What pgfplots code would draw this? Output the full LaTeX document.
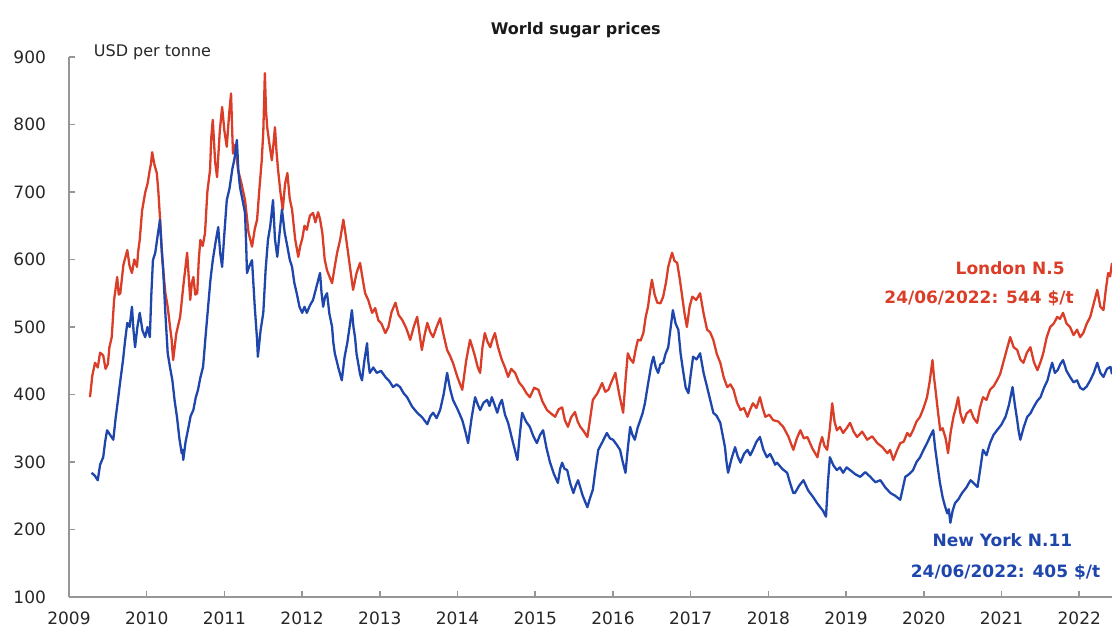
\documentclass[border=0pt]{standalone}
\usepackage{fontspec}
\setmainfont{DejaVu Sans}
\usepackage{pgfplots}
\pgfplotsset{compat=1.18}
\definecolor{ldn}{RGB}{218,62,40}
\definecolor{nyc}{RGB}{30,70,172}
\definecolor{axgray}{RGB}{150,150,150}
\begin{document}
\begin{tikzpicture}
\useasboundingbox (0,0) rectangle (556pt,317.5pt);
\begin{axis}[
  at={(34.5pt,19pt)}, anchor=south west,
  scale only axis, width=521.5pt, height=270pt,
  xmin=2009, xmax=2022.42, ymin=100, ymax=900,
  axis x line=bottom, axis y line=left,
  axis line style={-, axgray, line width=1pt},
  xtick={2009,...,2022}, ytick={100,200,...,900},
  xticklabels={2009,2010,2011,2012,2013,2014,2015,2016,2017,2018,2019,2020,2021,2022},
  tick align=inside, major tick length=3pt,
  tick style={axgray, line width=0.8pt},
  /pgf/number format/assume math mode=true,
  ticklabel style={font=\fontsize{8.5}{10}\selectfont, text=black!85},
  yticklabel style={xshift=-8pt},
  xticklabel style={yshift=-4pt},
  clip=false,
]
\addplot[ldn, line width=1.15pt, line join=round] coordinates {
(2009.27,396)(2009.30,428)(2009.335,447)(2009.37,440)(2009.40,462)(2009.44,458)(2009.47,438)(2009.50,445)
(2009.52,470)(2009.55,485)(2009.58,540)(2009.62,574)(2009.64,548)(2009.66,550)(2009.70,592)(2009.75,614)
(2009.78,590)(2009.81,580)(2009.84,600)(2009.875,589)(2009.89,612)(2009.91,629)(2009.94,672)(2009.98,699)
(2010.01,712)(2010.04,733)(2010.055,742)(2010.07,759)(2010.10,740)(2010.13,728)(2010.15,700)(2010.17,663)
(2010.20,600)(2010.24,550)(2010.27,530)(2010.30,500)(2010.32,482)(2010.34,451)(2010.38,490)(2010.43,515)
(2010.47,560)(2010.52,610)(2010.54,575)(2010.56,540)(2010.58,565)(2010.60,574)(2010.625,548)(2010.65,550)
(2010.67,600)(2010.69,629)(2010.72,620)(2010.75,639)(2010.78,700)(2010.815,733)(2010.83,780)(2010.85,807)
(2010.88,745)(2010.905,722)(2010.94,790)(2010.97,826)(2011.00,790)(2011.03,767)(2011.06,815)(2011.085,846)
(2011.10,790)(2011.11,757)(2011.14,770)(2011.175,733)(2011.22,712)(2011.265,688)(2011.31,640)(2011.355,619)
(2011.39,645)(2011.42,659)(2011.45,705)(2011.48,747)(2011.50,790)(2011.52,876)(2011.535,820)(2011.55,796)
(2011.58,770)(2011.61,747)(2011.63,770)(2011.65,796)(2011.67,760)(2011.69,733)(2011.72,700)(2011.75,674)
(2011.78,712)(2011.81,728)(2011.84,690)(2011.87,674)(2011.91,630)(2011.95,604)(2011.975,620)(2012.00,630)
(2012.03,650)(2012.06,644)(2012.10,665)(2012.14,669)(2012.17,655)(2012.205,670)(2012.23,660)(2012.26,639)
(2012.29,600)(2012.32,584)(2012.35,575)(2012.385,565)(2012.42,590)(2012.45,610)(2012.49,630)(2012.53,659)
(2012.555,640)(2012.58,619)(2012.62,585)(2012.655,555)(2012.70,580)(2012.745,595)(2012.78,570)(2012.81,550)
(2012.85,540)(2012.90,521)(2012.94,528)(2012.98,510)(2013.02,505)(2013.07,491)(2013.11,500)(2013.15,522)
(2013.20,536)(2013.24,518)(2013.29,510)(2013.34,498)(2013.39,481)(2013.44,502)(2013.48,515)(2013.51,490)
(2013.54,466)(2013.575,488)(2013.61,506)(2013.65,492)(2013.685,485)(2013.73,500)(2013.775,513)(2013.82,488)
(2013.865,466)(2013.90,458)(2013.94,447)(2014.00,425)(2014.06,407)(2014.11,450)(2014.16,481)(2014.19,470)
(2014.225,456)(2014.26,440)(2014.29,432)(2014.32,470)(2014.35,491)(2014.385,478)(2014.42,470)(2014.45,482)
(2014.48,491)(2014.52,470)(2014.57,451)(2014.61,440)(2014.65,426)(2014.69,438)(2014.74,432)(2014.79,418)
(2014.84,411)(2014.885,402)(2014.93,396)(2014.985,410)(2015.04,407)(2015.09,390)(2015.15,377)(2015.20,372)
(2015.255,367)(2015.30,378)(2015.345,381)(2015.38,362)(2015.42,352)(2015.46,366)(2015.51,374)(2015.545,360)
(2015.58,352)(2015.62,346)(2015.67,337)(2015.70,360)(2015.74,392)(2015.80,402)(2015.86,417)(2015.90,404)
(2015.94,407)(2015.985,420)(2016.03,432)(2016.08,400)(2016.13,373)(2016.16,420)(2016.19,461)(2016.225,452)
(2016.26,447)(2016.29,466)(2016.32,481)(2016.355,480)(2016.39,491)(2016.42,515)(2016.45,530)(2016.475,552)
(2016.50,570)(2016.535,548)(2016.57,536)(2016.61,535)(2016.645,545)(2016.68,565)(2016.71,589)(2016.735,600)
(2016.76,610)(2016.79,598)(2016.825,595)(2016.86,570)(2016.89,545)(2016.92,520)(2016.95,500)(2016.985,530)
(2017.02,545)(2017.07,540)(2017.12,550)(2017.165,520)(2017.21,496)(2017.25,492)(2017.29,481)(2017.335,460)
(2017.38,447)(2017.425,425)(2017.47,411)(2017.51,415)(2017.55,407)(2017.595,388)(2017.64,377)(2017.685,380)
(2017.73,367)(2017.765,378)(2017.80,387)(2017.845,380)(2017.89,396)(2017.925,380)(2017.96,367)(2018.01,370)
(2018.06,362)(2018.125,360)(2018.19,352)(2018.255,338)(2018.32,318)(2018.365,335)(2018.41,347)(2018.455,335)
(2018.50,337)(2018.565,320)(2018.63,307)(2018.66,325)(2018.69,337)(2018.72,324)(2018.755,318)(2018.79,350)
(2018.82,387)(2018.85,360)(2018.88,347)(2018.92,352)(2018.96,343)(2019.005,350)(2019.05,358)(2019.095,345)
(2019.14,337)(2019.205,345)(2019.27,333)(2019.335,338)(2019.40,328)(2019.465,322)(2019.53,313)(2019.565,318)
(2019.605,303)(2019.65,316)(2019.695,328)(2019.74,330)(2019.785,343)(2019.82,338)(2019.86,347)(2019.905,360)
(2019.95,367)(2019.995,380)(2020.04,396)(2020.075,420)(2020.11,451)(2020.13,425)(2020.145,411)(2020.18,375)
(2020.21,347)(2020.24,350)(2020.275,337)(2020.29,328)(2020.31,313)(2020.345,345)(2020.38,367)(2020.41,380)
(2020.44,396)(2020.47,372)(2020.505,358)(2020.55,372)(2020.60,377)(2020.64,365)(2020.685,358)(2020.72,380)
(2020.76,396)(2020.805,392)(2020.85,407)(2020.895,412)(2020.94,421)(2020.98,430)(2021.02,447)(2021.065,466)
(2021.11,485)(2021.155,470)(2021.20,466)(2021.24,452)(2021.28,447)(2021.325,462)(2021.37,470)(2021.415,448)
(2021.46,436)(2021.50,448)(2021.535,461)(2021.58,485)(2021.625,500)(2021.67,505)(2021.715,515)(2021.75,512)
(2021.79,521)(2021.835,505)(2021.88,500)(2021.925,488)(2021.97,496)(2022.01,485)(2022.05,491)(2022.095,505)
(2022.14,515)(2022.185,535)(2022.23,555)(2022.27,530)(2022.31,525)(2022.34,555)(2022.37,580)(2022.395,575)
(2022.42,595)
};
\addplot[nyc, line width=1.15pt, line join=round] coordinates {
(2009.29,284)(2009.33,280)(2009.37,273)(2009.40,296)(2009.44,307)(2009.465,330)(2009.49,347)(2009.53,340)
(2009.57,333)(2009.60,365)(2009.63,392)(2009.66,420)(2009.695,451)(2009.72,478)(2009.75,506)(2009.78,500)
(2009.81,530)(2009.83,495)(2009.85,470)(2009.88,500)(2009.91,521)(2009.945,495)(2009.98,485)(2010.01,500)
(2010.04,485)(2010.06,550)(2010.08,599)(2010.11,610)(2010.145,639)(2010.16,650)(2010.17,659)(2010.19,620)
(2010.21,589)(2010.24,520)(2010.27,461)(2010.30,440)(2010.33,421)(2010.36,390)(2010.39,366)(2010.42,335)
(2010.45,313)(2010.46,318)(2010.47,303)(2010.50,330)(2010.53,347)(2010.565,368)(2010.60,377)(2010.63,395)
(2010.66,407)(2010.69,425)(2010.725,441)(2010.76,490)(2010.79,530)(2010.82,570)(2010.85,599)(2010.885,625)
(2010.92,648)(2010.945,610)(2010.97,589)(2011.00,640)(2011.03,688)(2011.065,705)(2011.10,733)(2011.13,750)
(2011.16,777)(2011.18,730)(2011.20,707)(2011.23,690)(2011.265,669)(2011.28,620)(2011.29,580)(2011.32,590)
(2011.355,599)(2011.39,530)(2011.42,481)(2011.43,456)(2011.465,495)(2011.50,521)(2011.53,585)(2011.56,629)
(2011.59,650)(2011.625,688)(2011.65,630)(2011.68,604)(2011.71,640)(2011.74,674)(2011.775,640)(2011.81,619)
(2011.84,600)(2011.87,589)(2011.90,565)(2011.93,550)(2011.965,530)(2012.00,521)(2012.03,530)(2012.06,521)
(2012.10,532)(2012.14,540)(2012.185,560)(2012.23,580)(2012.25,550)(2012.27,530)(2012.295,545)(2012.32,550)
(2012.35,520)(2012.385,500)(2012.40,478)(2012.42,461)(2012.465,440)(2012.51,421)(2012.545,455)(2012.58,476)
(2012.61,500)(2012.64,525)(2012.66,500)(2012.68,485)(2012.70,460)(2012.72,447)(2012.745,430)(2012.77,421)
(2012.80,450)(2012.835,476)(2012.85,450)(2012.87,432)(2012.915,440)(2012.96,432)(2013.015,435)(2013.07,426)
(2013.12,420)(2013.17,411)(2013.215,415)(2013.26,411)(2013.305,402)(2013.35,396)(2013.415,382)(2013.48,373)
(2013.545,366)(2013.61,356)(2013.65,368)(2013.685,373)(2013.73,365)(2013.775,377)(2013.82,400)(2013.865,432)
(2013.90,410)(2013.94,392)(2014.00,378)(2014.06,362)(2014.10,345)(2014.135,328)(2014.18,365)(2014.225,396)
(2014.26,385)(2014.29,377)(2014.335,388)(2014.38,392)(2014.41,383)(2014.44,396)(2014.475,385)(2014.51,373)
(2014.54,385)(2014.57,392)(2014.61,370)(2014.65,358)(2014.71,330)(2014.77,303)(2014.80,340)(2014.83,373)
(2014.88,360)(2014.93,352)(2014.975,338)(2015.02,328)(2015.06,340)(2015.10,347)(2015.145,320)(2015.19,299)
(2015.24,282)(2015.29,269)(2015.32,290)(2015.345,299)(2015.375,290)(2015.41,288)(2015.45,268)(2015.49,254)
(2015.52,265)(2015.55,273)(2015.61,250)(2015.67,233)(2015.70,245)(2015.74,259)(2015.775,290)(2015.81,318)
(2015.865,330)(2015.92,343)(2015.96,335)(2016.00,333)(2016.045,326)(2016.09,318)(2016.125,300)(2016.16,284)
(2016.19,320)(2016.22,352)(2016.25,340)(2016.28,333)(2016.315,350)(2016.35,362)(2016.38,372)(2016.41,387)
(2016.445,412)(2016.48,436)(2016.50,448)(2016.52,456)(2016.55,440)(2016.58,432)(2016.61,445)(2016.645,447)
(2016.675,460)(2016.71,470)(2016.74,498)(2016.77,525)(2016.805,505)(2016.84,496)(2016.87,460)(2016.90,436)
(2016.935,410)(2016.97,402)(2017.00,430)(2017.03,456)(2017.075,452)(2017.12,461)(2017.165,432)(2017.21,411)
(2017.25,392)(2017.29,373)(2017.335,368)(2017.38,358)(2017.41,340)(2017.44,322)(2017.46,300)(2017.48,284)
(2017.525,305)(2017.57,322)(2017.605,308)(2017.64,299)(2017.685,312)(2017.73,318)(2017.765,310)(2017.80,318)
(2017.845,330)(2017.89,337)(2017.935,318)(2017.98,307)(2018.02,312)(2018.06,303)(2018.085,296)(2018.11,299)
(2018.175,290)(2018.24,284)(2018.28,268)(2018.32,254)(2018.34,254)(2018.395,265)(2018.45,273)(2018.51,258)
(2018.575,248)(2018.62,240)(2018.665,233)(2018.70,228)(2018.74,219)(2018.765,270)(2018.79,307)(2018.835,295)
(2018.88,288)(2018.92,292)(2018.96,284)(2019.005,292)(2019.05,288)(2019.115,282)(2019.18,278)(2019.245,285)
(2019.31,278)(2019.375,270)(2019.44,273)(2019.505,262)(2019.57,254)(2019.63,250)(2019.695,244)(2019.73,262)
(2019.76,278)(2019.81,282)(2019.86,288)(2019.905,300)(2019.95,307)(2019.995,318)(2020.04,328)(2020.08,338)
(2020.12,347)(2020.145,320)(2020.17,299)(2020.205,270)(2020.24,248)(2020.27,235)(2020.30,224)(2020.32,230)
(2020.34,210)(2020.37,228)(2020.40,239)(2020.445,245)(2020.49,254)(2020.545,262)(2020.60,273)(2020.645,268)
(2020.69,263)(2020.725,290)(2020.76,318)(2020.805,310)(2020.85,328)(2020.895,340)(2020.94,347)(2020.995,355)
(2021.05,367)(2021.095,385)(2021.14,411)(2021.17,385)(2021.20,362)(2021.22,345)(2021.24,333)(2021.285,352)
(2021.33,367)(2021.37,372)(2021.41,381)(2021.455,390)(2021.50,396)(2021.545,410)(2021.59,421)(2021.62,435)
(2021.65,447)(2021.685,432)(2021.72,436)(2021.755,445)(2021.79,451)(2021.835,435)(2021.88,426)(2021.925,418)
(2021.97,421)(2022.01,410)(2022.05,407)(2022.095,412)(2022.14,421)(2022.185,432)(2022.23,447)(2022.27,432)
(2022.31,426)(2022.355,438)(2022.40,441)(2022.42,430)
};
\node[anchor=west, font=\fontsize{8}{10}\selectfont, text=black!85] at (axis cs:2009.23,907) {USD per tonne};
\node[font=\bfseries\fontsize{8}{10}\selectfont, text=black!90] at (axis cs:2015.52,940) {World sugar prices};
\node[font=\bfseries\fontsize{8.5}{10}\selectfont, text=ldn] at (axis cs:2021.11,587) {London N.5};
\node[font=\bfseries\fontsize{8.5}{10}\selectfont, text=ldn] at (axis cs:2020.71,543) {24/06/2022: 544 \$/t};
\node[font=\bfseries\fontsize{8.5}{10}\selectfont, text=nyc] at (axis cs:2021.01,184) {New York N.11};
\node[font=\bfseries\fontsize{8.5}{10}\selectfont, text=nyc] at (axis cs:2021.05,136) {24/06/2022: 405 \$/t};
\end{axis}
\end{tikzpicture}
\end{document}
